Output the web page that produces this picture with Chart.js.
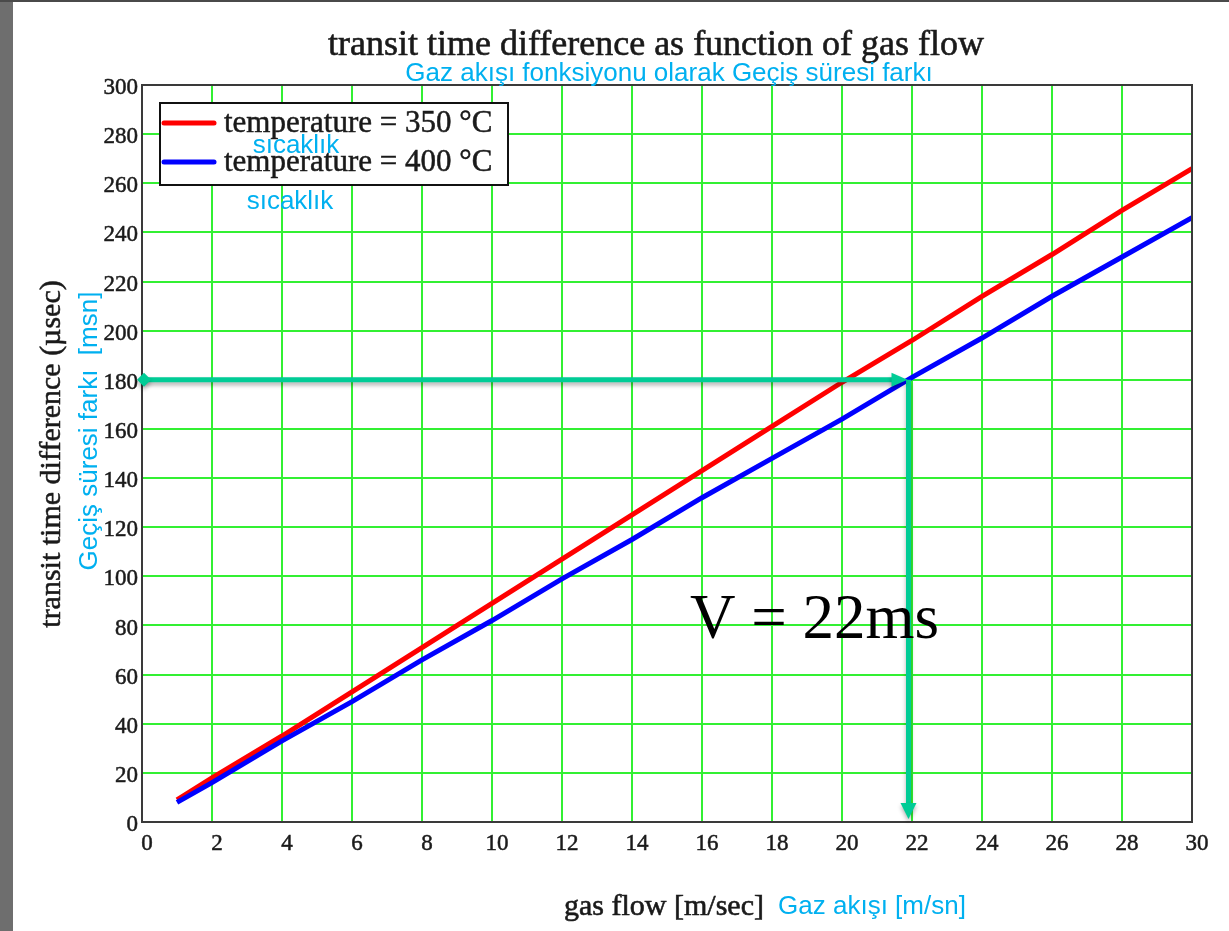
<!DOCTYPE html>
<html>
<head>
<meta charset="utf-8">
<script src="https://cdn.jsdelivr.net/npm/chart.js@4.4.1/dist/chart.umd.min.js"></script>
<style>
  html, body { margin: 0; padding: 0; background: #fff; }
  canvas { display: block; }
</style>
</head>
<body>
<canvas id="flowChart" width="1229" height="931"></canvas>
<script>
// gas flow [m/sec] and transit time difference [µsec]
const flowX = [1, 2, 4, 6, 8, 10, 12, 14, 16, 18, 20, 22, 24, 26, 28, 30];
const dt350 = [9, 18, 35, 53, 71, 89, 107, 125, 143, 161, 179, 196, 214, 231, 249, 266];
const dt400 = [8, 16, 33, 49, 66, 82, 99, 115, 132, 148, 164, 181, 197, 214, 230, 246];
const seriesLabels = ['temperature = 350 °C', 'temperature = 400 °C'];

// readout marked with the green arrows: flow, time difference
const readout = [21.9, 180];

const xRange = [0, 30, 2];
const yRange = [0, 300, 20];

const SERIF = '"Liberation Serif", "Times New Roman", serif';
const SANS = '"Liberation Sans", Arial, sans-serif';
const INK = '#1a1a1a';
const CYAN = '#00b0f0';
const TEAL = '#00cc96';

function seriesPoints(ys) {
    return flowX.map((x, i) => ({ x: x, y: ys[i] }));
}

// heavy = thin outline so the serif text looks as dark as the scan
function text(ctx, str, x, y, font, color, align, rot, heavy) {
    ctx.save();
    ctx.font = font;
    ctx.fillStyle = color;
    ctx.textAlign = align || 'center';
    ctx.textBaseline = 'middle';
    ctx.translate(x, y);
    if (rot) ctx.rotate(rot);
    ctx.fillText(str, 0, 0);
    if (heavy) {
        ctx.strokeStyle = color;
        ctx.lineWidth = heavy;
        ctx.strokeText(str, 0, 0);
    }
    ctx.restore();
}

// background, gray page edge
const pagePlugin = {
    id: 'page',
    beforeDraw(chart) {
        const ctx = chart.ctx;
        ctx.save();
        ctx.fillStyle = '#ffffff';
        ctx.fillRect(0, 0, chart.width, chart.height);
        ctx.fillStyle = '#6e6e6e';
        ctx.fillRect(0, 0, 13, chart.height);
        ctx.fillStyle = '#4a4a4a';
        ctx.fillRect(0, 0, chart.width, 2);
        ctx.restore();
    }
};

// frame, arrows, legend, labels
const overlayPlugin = {
    id: 'overlay',
    afterDraw(chart) {
        const ctx = chart.ctx;
        const a = chart.chartArea;
        const xs = chart.scales.x, ys = chart.scales.y;

        ctx.save();
        ctx.strokeStyle = '#3a3a3a';
        ctx.lineWidth = 2;
        ctx.strokeRect(a.left, a.top, a.right - a.left, a.bottom - a.top);
        ctx.restore();

        // readout arrows
        const px = xs.getPixelForValue(readout[0]);
        const py = ys.getPixelForValue(readout[1]);
        ctx.save();
        ctx.shadowColor = 'rgba(0,0,0,0.3)';
        ctx.shadowBlur = 4;
        ctx.shadowOffsetY = 3;
        ctx.strokeStyle = TEAL;
        ctx.fillStyle = TEAL;
        ctx.lineWidth = 5;
        ctx.beginPath();
        ctx.moveTo(a.left + 2, py);
        ctx.lineTo(px - 12, py);
        ctx.moveTo(px, py);
        ctx.lineTo(px, a.bottom - 16);
        ctx.stroke();
        // start diamond
        ctx.beginPath();
        ctx.moveTo(a.left - 5, py);
        ctx.lineTo(a.left + 2, py - 7);
        ctx.lineTo(a.left + 9, py);
        ctx.lineTo(a.left + 2, py + 7);
        ctx.closePath();
        ctx.fill();
        // right arrow head
        ctx.beginPath();
        ctx.moveTo(px - 1, py);
        ctx.lineTo(px - 17, py - 7);
        ctx.lineTo(px - 17, py + 7);
        ctx.closePath();
        ctx.fill();
        // down arrow head
        ctx.beginPath();
        ctx.moveTo(px, a.bottom - 3);
        ctx.lineTo(px - 8, a.bottom - 19);
        ctx.lineTo(px + 8, a.bottom - 19);
        ctx.closePath();
        ctx.fill();
        ctx.restore();

        // legend box
        ctx.save();
        ctx.fillStyle = '#ffffff';
        ctx.fillRect(160, 103, 348, 82);
        ctx.strokeStyle = '#111';
        ctx.lineWidth = 2;
        ctx.strokeRect(160, 103, 348, 82);
        const rows = [[123, '#ff0000'], [162, '#0000ff']];
        rows.forEach((r, i) => {
            ctx.strokeStyle = r[1];
            ctx.lineWidth = 5;
            ctx.lineCap = 'round';
            ctx.beginPath();
            ctx.moveTo(164, r[0]);
            ctx.lineTo(214, r[0]);
            ctx.stroke();
            text(ctx, seriesLabels[i], 224, r[0] + 1, '31px ' + SERIF, INK, 'left', 0, 0.5);
        });
        ctx.restore();
        text(ctx, 'sıcaklık', 296, 146, '26px ' + SANS, CYAN);
        text(ctx, 'sıcaklık', 290, 202, '26px ' + SANS, CYAN);

        // titles
        text(ctx, 'transit time difference as function of gas flow', 656, 46, '36px ' + SERIF, INK, 'center', 0, 0.6);
        text(ctx, 'Gaz akışı fonksiyonu olarak Geçiş süresi farkı', 669, 74, '26px ' + SANS, CYAN);
        text(ctx, 'transit time difference (µsec)', 52, 454, '30px ' + SERIF, INK, 'center', -Math.PI / 2, 0.5);
        text(ctx, 'Geçiş süresi farkı  [msn]', 90, 431, '26px ' + SANS, CYAN, 'center', -Math.PI / 2);
        text(ctx, 'gas flow [m/sec]', 664, 907, '30px ' + SERIF, INK, 'center', 0, 0.6);
        text(ctx, 'Gaz akışı [m/sn]', 872, 907, '26px ' + SANS, CYAN);

        text(ctx, 'V = 22ms', 690, 621, '63px ' + SERIF, '#000', 'left');
    }
};

new Chart(document.getElementById('flowChart'), {
    type: 'scatter',
    data: {
        datasets: [
            {
                label: seriesLabels[0],
                data: seriesPoints(dt350),
                showLine: true,
                borderColor: '#ff0000',
                borderWidth: 5,
                pointRadius: 0,
                order: 2
            },
            {
                label: seriesLabels[1],
                data: seriesPoints(dt400),
                showLine: true,
                borderColor: '#0000ff',
                borderWidth: 5,
                pointRadius: 0,
                order: 1
            }
        ]
    },
    options: {
        responsive: false,
        animation: false,
        layout: { padding: { left: 0, top: 85, right: 37, bottom: 0 } },
        plugins: {
            legend: { display: false },
            title: { display: false },
            tooltip: { enabled: false }
        },
        scales: {
            x: {
                type: 'linear',
                min: xRange[0], max: xRange[1],
                afterFit(s) { s.height = 109; },
                border: { color: '#3a3a3a', width: 2 },
                grid: { color: '#33f033', lineWidth: 2, drawTicks: false },
                ticks: {
                    stepSize: xRange[2], padding: 8, labelOffset: 5, color: INK,
                    textStrokeColor: INK, textStrokeWidth: 0.5,
                    font: { family: SERIF, size: 23 }
                }
            },
            y: {
                type: 'linear',
                min: yRange[0], max: yRange[1],
                afterFit(s) { s.width = 142; },
                border: { color: '#3a3a3a', width: 2 },
                grid: { color: '#33f033', lineWidth: 2, drawTicks: false },
                ticks: {
                    stepSize: yRange[2], padding: 4, labelOffset: 3, color: INK,
                    textStrokeColor: INK, textStrokeWidth: 0.5,
                    font: { family: SERIF, size: 23 }
                }
            }
        }
    },
    plugins: [pagePlugin, overlayPlugin]
});
</script>
</body>
</html>
